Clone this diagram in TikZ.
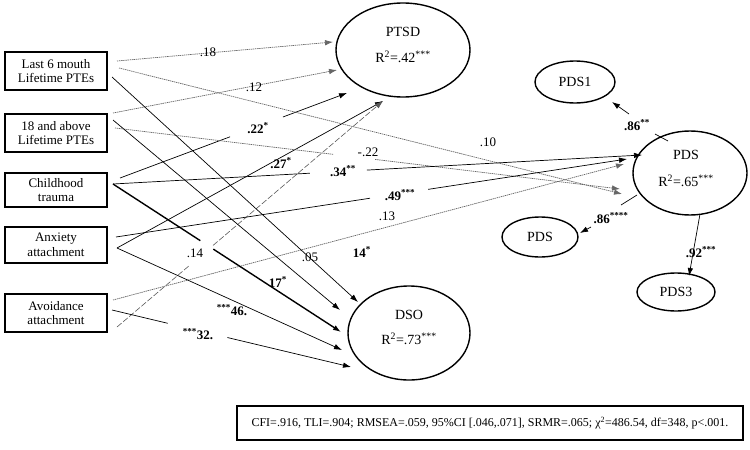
\documentclass[tikz,border=0pt]{standalone}
\usepackage{fontspec}
\setmainfont{Liberation Serif}
\usetikzlibrary{arrows.meta,shapes.geometric,calc}
\begin{document}
\begin{tikzpicture}[x=1pt,y=-1pt,
  obs/.style={draw, line width=1.3pt, minimum width=102pt, align=center, inner sep=0pt,
    font=\fontsize{13}{14.5}\selectfont},
  lat/.style={draw, ellipse, line width=1.4pt, inner sep=0pt},
  lattext/.style={font=\fontsize{14}{16}\selectfont, inner sep=0pt},
  tip/.style={-{Latex[length=8pt,width=5.5pt]}},
  solidline/.style={line width=0.7pt, black, tip},
  thickline/.style={line width=1.4pt, black, tip},
  dotline/.style={line width=0.7pt, black!60, dash pattern=on 1.4pt off 0.7pt, tip},
  dashline/.style={line width=0.6pt, black!65, dash pattern=on 6pt off 2pt, tip},
  lab/.style={font=\fontsize{13}{14}\selectfont, inner sep=0.5pt},
  blab/.style={font=\fontsize{13}{14}\selectfont\bfseries, inner sep=0.5pt},
  foot/.style={draw, line width=1.1pt, minimum width=506pt, minimum height=34pt,
    font=\fontsize{12}{14}\selectfont}
]
\useasboundingbox (0,0) rectangle (750,450);

% observed boxes
\node[obs, minimum height=38pt] (b1) at (56,71) {Last 6 mouth\\Lifetime PTEs};
\node[obs, minimum height=38pt] (b2) at (56,133) {18 and above\\Lifetime PTEs};
\node[obs, minimum height=34pt] (b3) at (56,190) {Childhood\\trauma};
\node[obs, minimum height=36pt] (b4) at (56,245) {Anxiety\\attachment};
\node[obs, minimum height=38pt] (b5) at (56,313) {Avoidance\\attachment};

% latent ellipses
\node[lat, minimum width=134pt, minimum height=94pt] (ptsd) at (403,50) {};
\node[lattext] (ptsdn) at (403,32) {PTSD};
\node[lattext] (ptsdr) at (403,57) {R\textsuperscript{2}=.42\textsuperscript{***}};

\node[lat, minimum width=122pt, minimum height=94pt] (dso) at (409,333) {};
\node[lattext] (dson) at (409,315) {DSO};
\node[lattext] (dsor) at (409,339) {R\textsuperscript{2}=.73\textsuperscript{***}};

\node[lat, minimum width=114pt, minimum height=84pt] (pds) at (690,173) {};
\node[lattext] (pdsn) at (686,155) {PDS};
\node[lattext] (pdsr) at (686,181) {R\textsuperscript{2}=.65\textsuperscript{***}};

\node[lat, minimum width=80pt, minimum height=42pt, lattext] (pds1) at (575,82) {PDS1};
\node[lat, minimum width=76pt, minimum height=40pt, lattext] (pds2) at (540,237) {PDS};
\node[lat, minimum width=78pt, minimum height=38pt, lattext] (pds3) at (676,292) {PDS3};

% start points
\coordinate (s1a) at (117,61);
\coordinate (s1b) at (119,68);
\coordinate (s1c) at (112,77);
\coordinate (s2a) at (113,113);
\coordinate (s2c) at (113,120);
\coordinate (s2b) at (115,128);
\coordinate (s3a) at (120,178);
\coordinate (s3b) at (113,184);
\coordinate (s4b) at (116,237);
\coordinate (s4a) at (117,248);
\coordinate (s5a) at (113,300);
\coordinate (s5b) at (112,310);
\coordinate (s5c) at (117,327);

% end points
\coordinate (ep1) at (333,42);
\coordinate (ep2) at (337,70);
\coordinate (ep3) at (347,93);
\coordinate (ep4) at (383,101);
\coordinate (eq1) at (642,155);
\coordinate (eq2) at (627,159);
\coordinate (eq3) at (624,164);
\coordinate (eq4) at (620,189);
\coordinate (eq5) at (622,194);
\coordinate (ed1) at (358,302);
\coordinate (ed2) at (340,310);
\coordinate (ed3) at (341,332);
\coordinate (ed4) at (342,350);
\coordinate (ed5) at (351,367);

% paths to PTSD
\draw[dotline] (s1a) -- (ep1);
\draw[dotline] (s2a) -- (ep2);
\draw[solidline] (s3a) -- ($(s3a)!0.485!(ep3)$) ($(s3a)!0.718!(ep3)$) -- (ep3);
\draw[solidline] (s4a) -- (ep4);
\draw[dashline] (s5c) -- ($(s5c)!0.274!(ep4)$) ($(s5c)!0.361!(ep4)$) -- (ep4);

% paths to PDS
\draw[dotline] (s1b) -- (eq5);
\draw[dotline] (s2b) -- ($(s2b)!0.432!(eq4)$) ($(s2b)!0.515!(eq4)$) -- (eq4);
\draw[solidline] (s3b) -- ($(s3b)!0.372!(eq1)$) ($(s3b)!0.48!(eq1)$) -- (eq1);
\draw[solidline] (s4b) -- ($(s4b)!0.497!(eq2)$) ($(s4b)!0.611!(eq2)$) -- (eq2);
\draw[dotline] (s5a) -- (eq3);

% paths to DSO
\draw[solidline] (s1c) -- (ed1);
\draw[solidline] (s2c) -- (ed2);
\draw[thickline] (s3b) -- ($(s3b)!0.383!(ed3)$) ($(s3b)!0.44!(ed3)$) -- (ed3);
\draw[solidline] (s4a) -- (ed4);
\draw[solidline] (s5b) -- ($(s5b)!0.233!(ed5)$) ($(s5b)!0.483!(ed5)$) -- (ed5);

% loadings
\coordinate (l1a) at (668,141);
\coordinate (l1b) at (655,134);
\coordinate (l1c) at (629,114);
\coordinate (l1d) at (612,102);
\draw[line width=0.7pt] (l1a) -- (l1b);
\draw[solidline] (l1c) -- (l1d);
\coordinate (l2a) at (637,195);
\coordinate (l2b) at (621,205);
\coordinate (l2c) at (591,227);
\coordinate (l2d) at (580,233);
\draw[line width=0.7pt] (l2a) -- (l2b);
\draw[solidline] (l2c) -- (l2d);
\coordinate (l3a) at (700,214);
\coordinate (l3d) at (689,276);
\draw[solidline] (l3a) -- (l3d);

% labels
\node[lab] (t18) at (208,52) {.18};
\node[lab] (t12) at (254,87) {.12};
\node[blab] (t22) at (258,128) {.22\textsuperscript{*}};
\node[blab] (t27) at (281,163) {.27\textsuperscript{*}};
\node[lab] (t14) at (195,253) {.14};
\node[lab] (tm22) at (368,152) {-.22};
\node[lab] (t10) at (488,142) {.10};
\node[blab] (t34) at (343,171) {.34\textsuperscript{**}};
\node[blab] (t49) at (400,195) {.49\textsuperscript{***}};
\node[lab] (t13) at (387,216) {.13};
\node[lab] (t05) at (310,257) {.05};
\node[blab] (t14s) at (362,252) {14\textsuperscript{*}};
\node[blab] (t17) at (278,282) {17\textsuperscript{*}};
\node[blab] (t46) at (232,310) {\textsuperscript{***}46.};
\node[blab] (t32) at (198,334) {\textsuperscript{***}32.};
\node[blab] (t86a) at (637,125) {.86\textsuperscript{**}};
\node[blab] (t86b) at (611,218) {.86\textsuperscript{****}};
\node[blab] (t92) at (701,252) {.92\textsuperscript{***}};

% fit box
\node[foot] (fit) at (490,423) {CFI=.916, TLI=.904; RMSEA=.059, 95\%CI [.046,.071], SRMR=.065; χ\textsuperscript{2}=486.54, df=348, p<.001.};
\end{tikzpicture}
\end{document}
